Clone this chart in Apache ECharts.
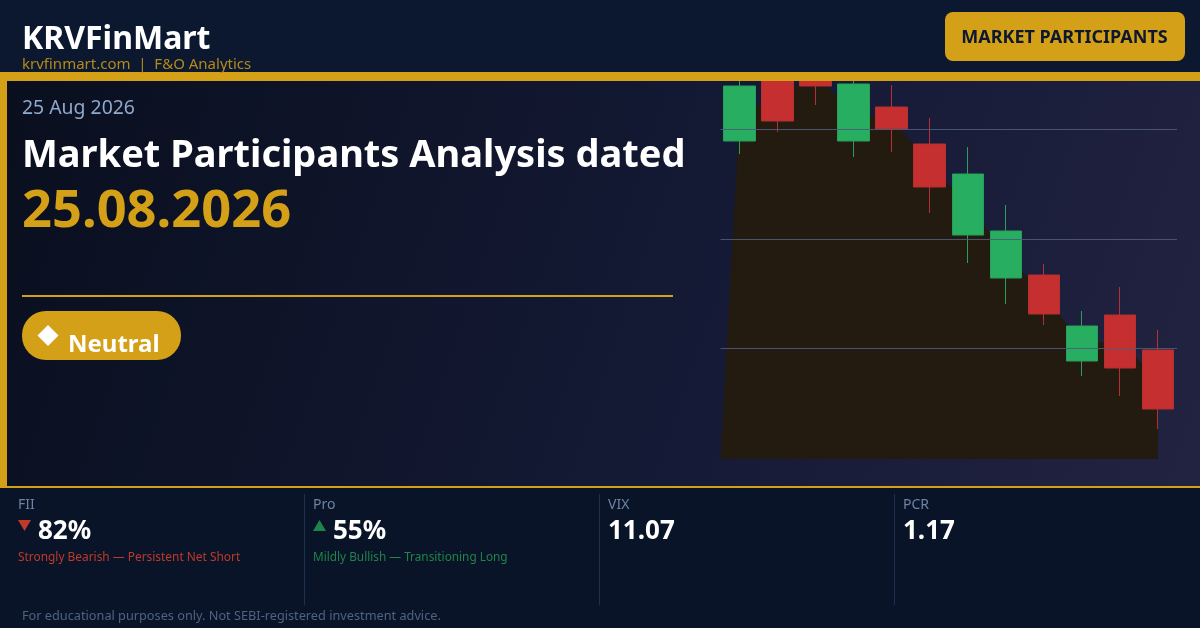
<!DOCTYPE html>
<html>
<head>
<meta charset="utf-8">
<style>html,body{margin:0;padding:0;background:#0a1428}</style>
<script src="https://cdn.jsdelivr.net/npm/echarts@6/dist/echarts.min.js"></script>
</head>
<body>
<div id="main" style="width:1200px;height:628px"></div>
<script>
// no price scale in the picture, so values are read as height above the area's base
var days   = ['1','2','3','4','5','6','7','8','9','10','11','12']
var opens  = [318, 386, 395, 318, 352, 315, 224, 181, 184,  98, 144, 109]
var closes = [373, 338, 373, 375, 330, 272, 285, 228, 145, 133,  91,  50]
var lows   = [305, 327, 354, 302, 307, 246, 196, 155, 134,  83,  63,  30]
var highs  = [389, 399, 409, 389, 374, 341, 312, 254, 195, 148, 172, 129]
var gridValues = [329.7, 219.7, 110.7]
// shaded shape behind the candles, starts from the base left of the first candle
var areaValues = [345.5, 362, 384, 346.5, 341, 293.5, 254.5, 204.5, 164.5, 115.5, 117.5, 79.5]

var statLabels = ['FII', 'Pro', 'VIX', 'PCR']
var statValues = ['82%', '55%', '11.07', '1.17']
var statNotes  = ['Strongly Bearish — Persistent Net Short', 'Mildly Bullish — Transitioning Long', '', '']
var statDirs   = ['down', 'up', '', '']

var GOLD = '#d4a017', FONT = '"Noto Sans", sans-serif'

function txt(x, y, text, size, weight, fill, align) {
  return {
    type: 'text', x: x, y: y, z: 7,
    style: {text: text, fontFamily: FONT, fontSize: size, fontWeight: weight, fill: fill,
      textVerticalAlign: 'middle', textAlign: align || 'left'}
  }
}
function box(x, y, w, h, fill, r, z) {
  return {type: 'rect', z: z || 1, shape: {x: x, y: y, width: w, height: h, r: r || 0}, style: {fill: fill}}
}

var shapes = [
  // header sits above the series so the tall candles run under the gold bar
  box(0, 0, 1200, 72, '#0c1730', 0, 6),
  box(0, 81, 1200, 405, new echarts.graphic.LinearGradient(0, 0, 1, 1, [
    {offset: 0, color: '#090f1e'}, {offset: 0.6, color: '#151a36'}, {offset: 1, color: '#222340'}])),
  box(0, 72, 1200, 9, GOLD, 0, 6),
  box(0, 81, 7, 405, GOLD),
  box(0, 486, 1200, 2, GOLD),
  box(0, 488, 1200, 140, '#0a1428'),
  txt(22, 40, 'KRVFinMart', 32, 700, '#ffffff'),
  txt(22, 65, 'krvfinmart.com  |  F&O Analytics', 15, 400, '#b48a18'),
  box(945, 12, 240, 49, GOLD, 8, 6),
  txt(1064.5, 38, 'MARKET PARTICIPANTS', 18, 700, '#0c1730', 'center'),
  txt(22, 108, '25 Aug 2026', 19.4, 400, '#8fa8cc'),
  txt(22, 156, 'Market Participants Analysis dated', 38, 700, '#ffffff'),
  txt(22, 212, '25.08.2026', 52.4, 700, GOLD),
  box(22, 295, 651, 2, GOLD),
  box(22, 311, 159, 49, GOLD, 24),
  {type: 'polygon', z: 7, shape: {points: [[48, 325], [58.5, 335.5], [48, 346], [37.5, 335.5]]}, style: {fill: '#ffffff'}},
  txt(68, 345, 'Neutral', 24, 700, '#ffffff'),
  txt(22, 616, 'For educational purposes only. Not SEBI-registered investment advice.', 12.73, 400, '#4f6280')
]

var statX = [18, 313, 608, 903]
statLabels.forEach(function (label, i) {
  var x = statX[i]
  shapes.push(txt(x, 505, label, 14, 400, '#6d83a3'))
  if (i > 0) shapes.push(box(x - 9, 494, 1, 111, '#1e3050'))
  shapes.push(txt(statDirs[i] ? x + 20 : x, 532, statValues[i], 26, 700, '#ffffff'))
  if (statDirs[i] === 'down') {
    shapes.push({type: 'polygon', z: 7, shape: {points: [[18, 520], [31, 520], [24.5, 531]]}, style: {fill: '#c0392b'}})
    shapes.push(txt(x, 558, statNotes[i], 11.9, 400, '#c0392b'))
  } else if (statDirs[i] === 'up') {
    shapes.push({type: 'polygon', z: 7, shape: {points: [[313, 531], [326, 531], [319.5, 520]]}, style: {fill: '#1e8449'}})
    shapes.push(txt(x, 558, statNotes[i], 11.8, 400, '#1e8449'))
  }
})

var myChart = echarts.init(document.getElementById('main'), null, {renderer: 'canvas'})
myChart.setOption({
  animation: false,
  backgroundColor: 'transparent',
  grid: {left: 720.5, top: 81, width: 456.5, height: 378},
  graphic: {elements: shapes},
  xAxis: [
    {type: 'category', data: days, show: false},
    {type: 'value', min: -0.5, max: 11.5, show: false}
  ],
  yAxis: {type: 'value', min: 0, max: 378, show: false, splitLine: {show: false}},
  series: [
    {
      type: 'line', xAxisIndex: 1, z: 2, symbol: 'none', silent: true, clip: true,
      data: [[-0.5, 0]].concat(areaValues.map(function (v, i) { return [i, v] })),
      lineStyle: {width: 0},
      areaStyle: {color: '#231a10', opacity: 1, origin: 'start'}
    },
    {
      type: 'candlestick', xAxisIndex: 0, z: 3, barWidth: 32, silent: true,
      data: opens.map(function (o, i) { return [o, closes[i], lows[i], highs[i]] }),
      itemStyle: {color: '#27ae60', color0: '#c62f2f', borderColor: '#2a9f5a', borderColor0: '#b53030', borderWidth: 1},
      markLine: {
        silent: true, symbol: 'none', label: {show: false}, z: 4,
        lineStyle: {color: 'rgba(78,90,122,0.9)', width: 1, type: 'solid'},
        data: gridValues.map(function (v) { return {yAxis: v} })
      }
    }
  ]
})
</script>
</body>
</html>
